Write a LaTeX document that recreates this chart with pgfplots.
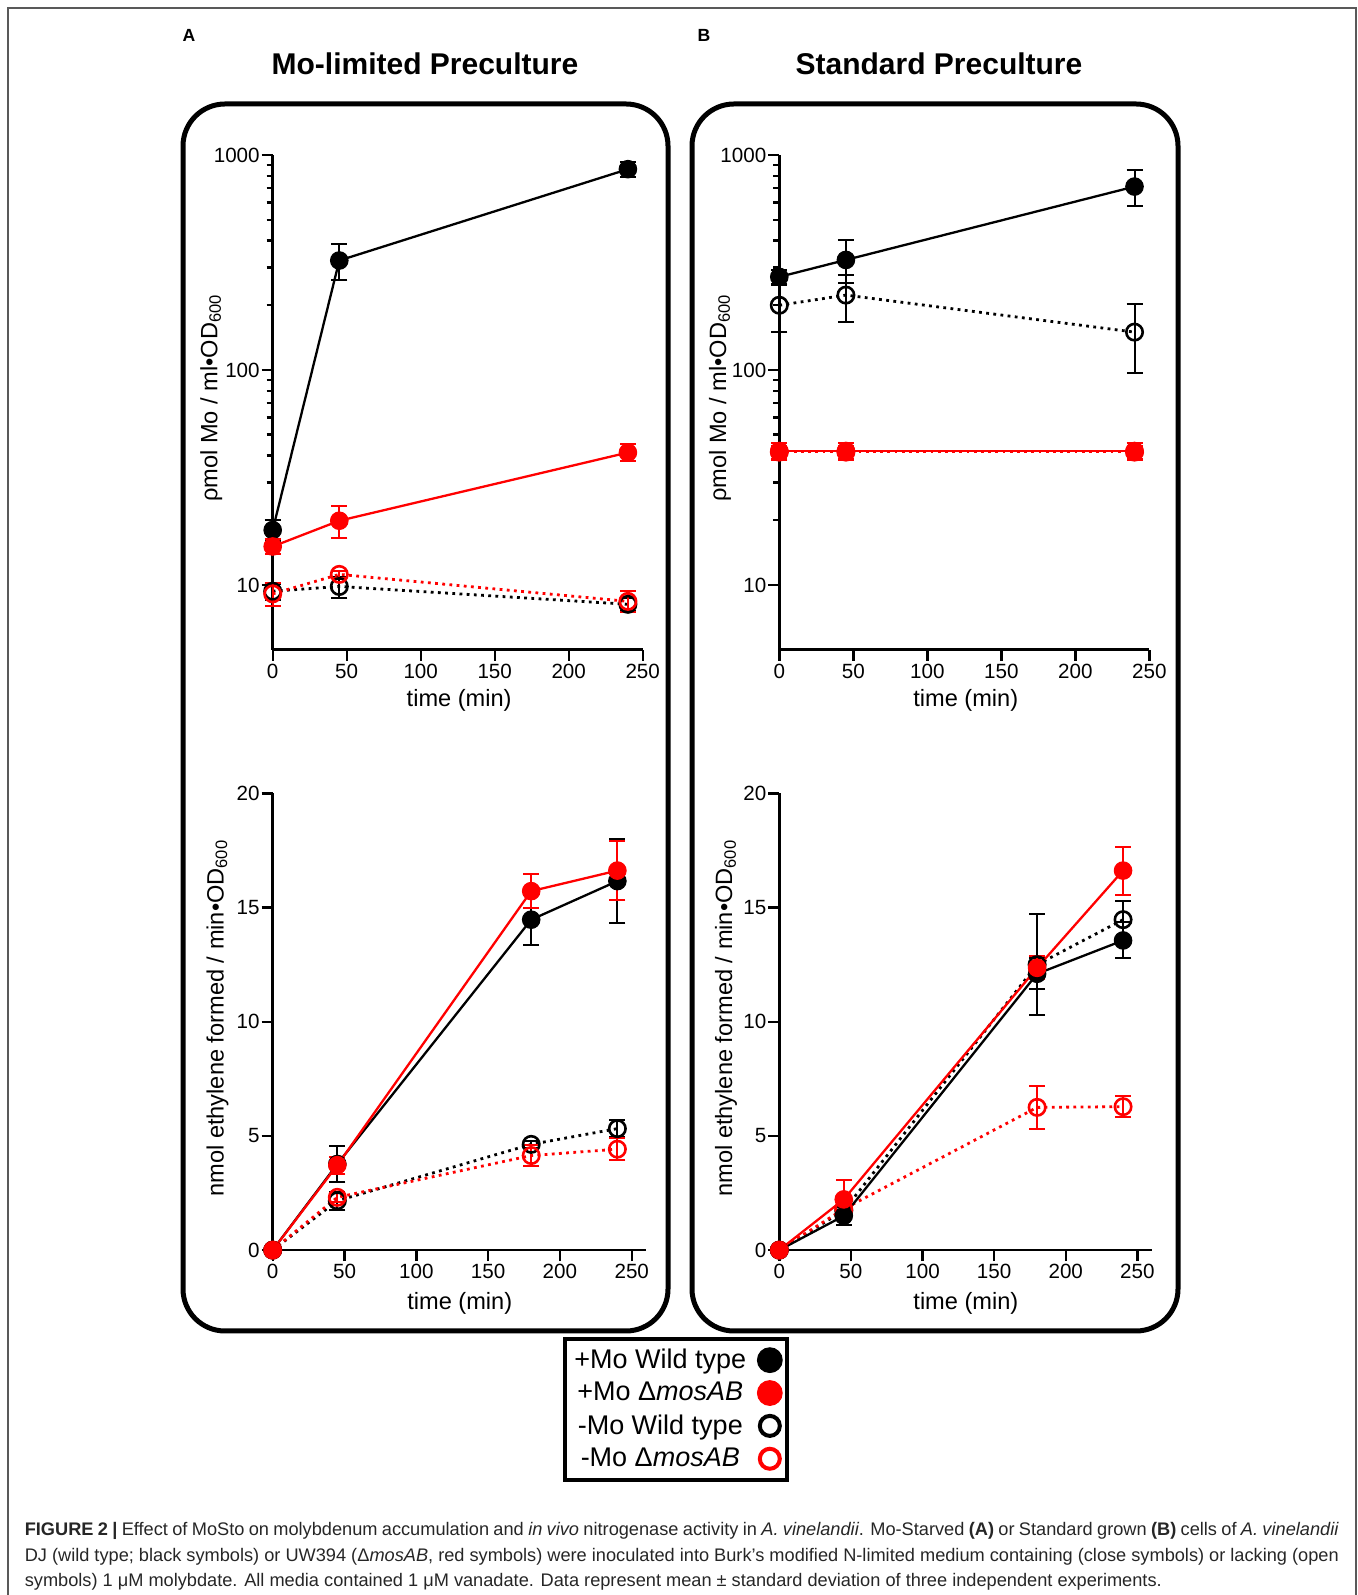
\documentclass[border=0pt]{standalone}
\usepackage{pgfplots}
\pgfplotsset{compat=1.18}
\usepackage{pgfplotstable}
\usepackage{fontspec}
\setmainfont{Liberation Sans}
\newfontfamily\capfont{Liberation Sans}

% ---------- Panel A top (log) ----------
\pgfplotstableread{
x y ep em
0 18 2 2
45 323 64 61
240 859 64 72
}\TLwtp
\pgfplotstableread{
x y ep em
0 15.1 1.2 1.2
45 19.9 3.3 3.3
240 41.3 3.8 3.6
}\TLdp
\pgfplotstableread{
x y ep em
0 9.35 0.8 0.8
45 9.84 1.1 1.1
240 8.13 0.6 0.6
}\TLwtm
\pgfplotstableread{
x y ep em
0 9.09 1.1 1.1
45 11.2 0.4 0.4
240 8.39 1.0 0.9
}\TLdm
% ---------- Panel B top (log) ----------
\pgfplotstableread{
x y ep em
0 271 21 21
45 325 78 70
240 713 135 135
}\TRwtp
\pgfplotstableread{
x y ep em
0 42 3.8 3.8
45 42 3.8 3.8
240 42 3.8 3.8
}\TRdp
\pgfplotstableread{
x y ep em
0 200 49 49
45 223 55 55
240 150 53 53
}\TRwtm
\pgfplotstableread{
x y ep em
0 41.5 3 3
45 41.5 3 3
240 41.5 3 3
}\TRdm
% ---------- Panel A bottom ----------
\pgfplotstableread{
x y ep em
0 0 0 0
45 3.77 0.8 0.8
180 14.47 1.1 1.1
240 16.16 1.85 1.85
}\BLwtp
\pgfplotstableread{
x y ep em
0 0 0 0
45 3.72 0.37 0.37
180 15.72 0.73 0.73
240 16.62 1.3 1.3
}\BLdp
\pgfplotstableread{
x y ep em
0 0 0 0
45 2.16 0.4 0.4
180 4.63 0.15 0.15
240 5.32 0.38 0.38
}\BLwtm
\pgfplotstableread{
x y ep em
0 0 0 0
45 2.31 0.2 0.2
180 4.14 0.45 0.45
240 4.42 0.49 0.49
}\BLdm
% ---------- Panel B bottom ----------
\pgfplotstableread{
x y ep em
0 0 0 0
45 1.5 0.4 0.4
180 12.1 0.68 0.68
240 13.56 0.79 0.79
}\BRwtp
\pgfplotstableread{
x y ep em
0 0 0 0
45 2.22 0.87 0.87
180 12.36 0.5 0.5
240 16.62 1.05 1.05
}\BRdp
\pgfplotstableread{
x y ep em
0 0 0 0
45 1.73 0.3 0.3
180 12.5 2.2 2.2
240 14.47 0.83 0.83
}\BRwtm
\pgfplotstableread{
x y ep em
0 0 0 0
45 1.8 0.3 0.3
180 6.25 0.93 0.93
240 6.28 0.45 0.45
}\BRdm

\pgfplotsset{
  myBase/.style={
    scale only axis, clip=false,
    axis x line*=bottom, axis y line*=left,
    axis line style={line width=1.35pt,-},
    tick align=outside,
    major tick length=5.5pt, minor tick length=3pt,
    every tick/.style={black, line width=1.2pt},
    tick label style={font=\fontsize{10.3}{12}\selectfont},
    xticklabel style={yshift=1.8pt},
    yticklabel style={xshift=2.5pt},
    label style={font=\fontsize{11.8}{14}\selectfont},
    /pgf/number format/assume math mode=true,
    /pgf/number format/1000 sep={},
    xmin=0, xtick={0,50,100,150,200,250},
  },
  myEbar/.style={
    error bars/y dir=both, error bars/y explicit,
    error bars/error bar style={line width=1pt, solid},
    error bars/error mark options={rotate=90, mark size=4pt, line width=1pt, solid}},
  myFilled/.style={#1, line width=1.15pt, mark=*, mark size=4.4pt,
    mark options={solid, fill=#1, line width=0.5pt}, myEbar},
  myOpen/.style={#1, line width=1.4pt, dash pattern=on 1.4pt off 2.2pt,
    mark=o, mark size=4.1pt, mark options={solid, line width=1.3pt}, myEbar},
}

\newcommand{\ylabTop}{ρmol Mo / ml•OD\textsubscript{600}}
\newcommand{\ylabBot}{nmol ethylene formed / min•OD\textsubscript{600}}

\begin{document}
\begin{tikzpicture}
\useasboundingbox (0,0) rectangle (679pt,797.5pt);
\draw[black!65, line width=0.6pt] (4pt,0) -- (4pt,793.5pt) -- (678pt,793.5pt) -- (678pt,0);
\draw[line width=2.5pt, rounded corners=21pt] (91.5pt,132pt) rectangle (334pt,745.5pt);
\draw[line width=2.5pt, rounded corners=21pt] (346pt,132pt) rectangle (589pt,745.5pt);
\node[font=\bfseries\fontsize{8.8}{10}\selectfont] at (94.5pt,780pt) {A};
\node[font=\bfseries\fontsize{8.8}{10}\selectfont] at (352pt,780pt) {B};
\node[font=\bfseries\fontsize{15}{18}\selectfont] at (212.5pt,765.5pt) {Mo-limited Preculture};
\node[font=\bfseries\fontsize{15}{18}\selectfont] at (469.5pt,765.5pt) {Standard Preculture};

% A top
\begin{axis}[myBase, ymode=log, width=185pt, height=247.35pt, ymin=5, ymax=1000,
  xmax=250, ytick={10,100,1000}, log ticks with fixed point,
  at={(136.35pt,472.65pt)}, anchor=south west,
  xlabel={time (min)}, ylabel={\ylabTop},
  xlabel style={at={(axis description cs:0.504,-0.102)},anchor=center},
  ylabel style={at={(axis description cs:-0.166,0.509)},anchor=center}]
\addplot[myOpen=black] table[x=x,y=y,y error plus=ep,y error minus=em]{\TLwtm};
\addplot[myOpen=red] table[x=x,y=y,y error plus=ep,y error minus=em]{\TLdm};
\addplot[myFilled=black] table[x=x,y=y,y error plus=ep,y error minus=em]{\TLwtp};
\addplot[myFilled=red] table[x=x,y=y,y error plus=ep,y error minus=em]{\TLdp};
\end{axis}

% B top
\begin{axis}[myBase, ymode=log, width=185pt, height=247.35pt, ymin=5, ymax=1000,
  xmax=250, ytick={10,100,1000}, log ticks with fixed point,
  at={(389.65pt,472.65pt)}, anchor=south west,
  xlabel={time (min)}, ylabel={\ylabTop},
  xlabel style={at={(axis description cs:0.504,-0.102)},anchor=center},
  ylabel style={at={(axis description cs:-0.160,0.509)},anchor=center}]
\addplot[myOpen=black] table[x=x,y=y,y error plus=ep,y error minus=em]{\TRwtm};
\addplot[myOpen=red] table[x=x,y=y,y error plus=ep,y error minus=em]{\TRdm};
\addplot[myFilled=black] table[x=x,y=y,y error plus=ep,y error minus=em]{\TRwtp};
\addplot[myFilled=red] table[x=x,y=y,y error plus=ep,y error minus=em]{\TRdp};
\end{axis}

% A bottom
\begin{axis}[myBase, width=186.7pt, height=228.35pt, ymin=0, ymax=20, xmax=260,
  ytick={0,5,10,15,20},
  at={(136.35pt,172.45pt)}, anchor=south west,
  xlabel={time (min)}, ylabel={\ylabBot},
  xlabel style={at={(axis description cs:0.501,-0.116)},anchor=center},
  ylabel style={at={(axis description cs:-0.148,0.508)},anchor=center},
  legend style={at={(1.0809,-0.3484)}, anchor=center, draw=black, line width=2pt,
    fill=white, font=\fontsize{13.5}{16}\selectfont, inner xsep=2.5pt, inner ysep=3pt,
    row sep=1.4pt, /tikz/every even column/.append style={column sep=1pt}},
  legend plot pos=right, legend cell align=center,
  legend image code/.code={\path (0cm,0cm); \draw[#1] plot coordinates {(0.31cm,0cm)};}]
\addplot[myOpen=black, forget plot] table[x=x,y=y,y error plus=ep,y error minus=em]{\BLwtm};
\addplot[myOpen=red, forget plot] table[x=x,y=y,y error plus=ep,y error minus=em]{\BLdm};
\addplot[myFilled=black, forget plot] table[x=x,y=y,y error plus=ep,y error minus=em]{\BLwtp};
\addplot[myFilled=red, forget plot] table[x=x,y=y,y error plus=ep,y error minus=em]{\BLdp};
\addlegendimage{only marks, mark=*, mark size=6.2pt, black, mark options={fill=black, line width=0.5pt}}
\addlegendentry{+Mo Wild type}
\addlegendimage{only marks, mark=*, mark size=6.2pt, red, mark options={fill=red, line width=0.5pt}}
\addlegendentry{+Mo Δ\textit{mosAB}}
\addlegendimage{only marks, mark=o, mark size=5pt, black, mark options={line width=2pt}}
\addlegendentry{-Mo Wild type}
\addlegendimage{only marks, mark=o, mark size=5pt, red, mark options={line width=2pt}}
\addlegendentry{-Mo Δ\textit{mosAB}}
\end{axis}

% B bottom
\begin{axis}[myBase, width=186.2pt, height=228.35pt, ymin=0, ymax=20, xmax=260,
  ytick={0,5,10,15,20},
  at={(389.65pt,172.45pt)}, anchor=south west,
  xlabel={time (min)}, ylabel={\ylabBot},
  xlabel style={at={(axis description cs:0.501,-0.116)},anchor=center},
  ylabel style={at={(axis description cs:-0.143,0.508)},anchor=center}]
\addplot[myOpen=black] table[x=x,y=y,y error plus=ep,y error minus=em]{\BRwtm};
\addplot[myOpen=red] table[x=x,y=y,y error plus=ep,y error minus=em]{\BRdm};
\addplot[myFilled=black] table[x=x,y=y,y error plus=ep,y error minus=em]{\BRwtp};
\addplot[myFilled=red] table[x=x,y=y,y error plus=ep,y error minus=em]{\BRdp};
\end{axis}

% caption
\begin{scope}[every node/.style={anchor=base west, inner sep=0pt, text=black!85,
    font=\capfont\fontsize{9.1}{10}\selectfont}]
\node at (12.2pt,29.5pt) {\makebox[657pt][s]{\textbf{FIGURE 2 |} Effect of MoSto on molybdenum accumulation and \textit{in vivo} nitrogenase activity in \textit{A. vinelandii}. Mo-Starved \textbf{(A)} or Standard grown \textbf{(B)} cells of \textit{A. vinelandii}}};
\node at (12.2pt,16.85pt) {\makebox[657pt][s]{DJ (wild type; black symbols) or UW394 (Δ\textit{mosAB}, red symbols) were inoculated into Burk’s modified N-limited medium containing (close symbols) or lacking (open}};
\node at (12.2pt,4.15pt) {symbols) 1 μM molybdate. All media contained 1 μM vanadate. Data represent mean ± standard deviation of three independent experiments.};
\end{scope}
\end{tikzpicture}
\end{document}
